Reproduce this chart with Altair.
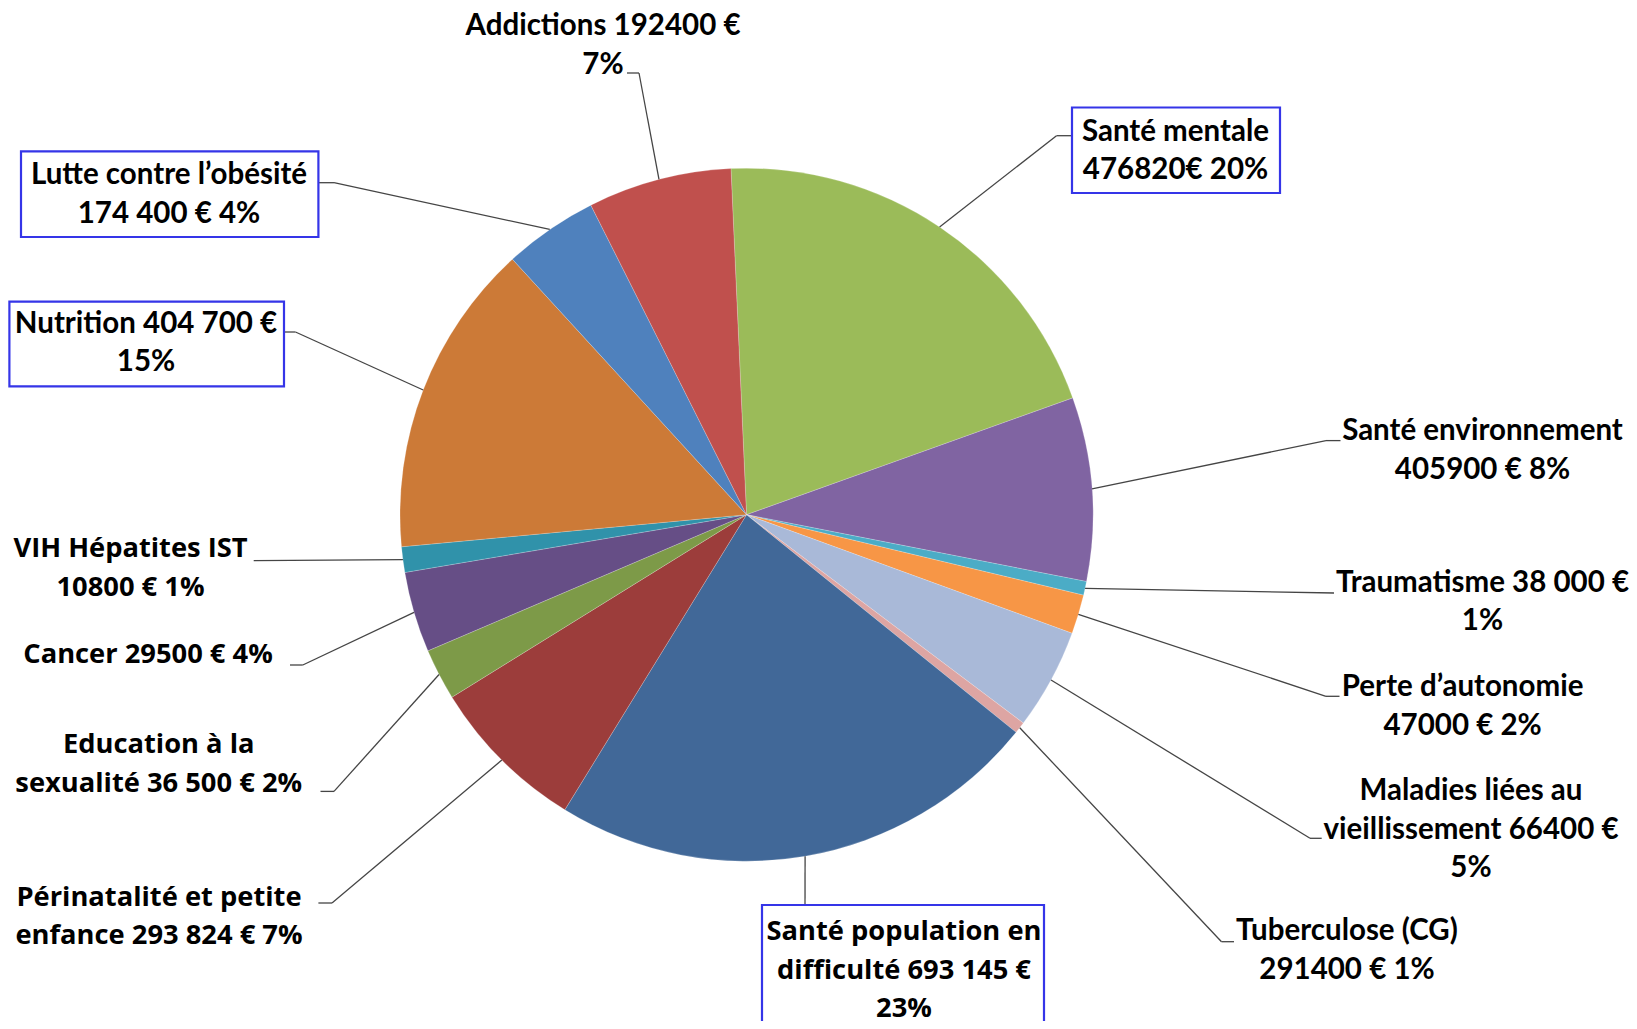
import math
import altair as alt
import pandas as pd

# ---------------- data ----------------
categories = [
    "Santé mentale", "Santé environnement", "Traumatisme", "Perte d'autonomie",
    "Maladies liées au vieillissement", "Tuberculose (CG)", "Santé population en difficulté",
    "Périnatalité et petite enfance", "Education à la sexualité", "Cancer",
    "VIH Hépatites IST", "Nutrition", "Lutte contre l'obésité", "Addictions",
]
# share of the pie (%) as drawn, clockwise from the top
shares = [20.24, 8.56, 0.64, 1.83, 4.71, 0.54, 22.97, 7.39, 2.40, 3.76, 1.19, 14.67, 4.39, 6.70]
label_texts = [
    ["Santé mentale", "476820€ 20%"],
    ["Santé environnement", "405900 € 8%"],
    ["Traumatisme  38 000 €", "1%"],
    ["Perte d\u2019autonomie", "47000 € 2%"],
    ["Maladies liées au", "vieillissement 66400 €", "5%"],
    ["Tuberculose (CG)", "291400 € 1%"],
    ["Santé population  en", "difficulté 693 145 €", "23%"],
    ["Périnatalité et petite", "enfance 293 824 € 7%"],
    ["Education à la", "sexualité 36 500 € 2%"],
    ["Cancer  29500 € 4%"],
    ["VIH Hépatites IST", "10800 € 1%"],
    ["Nutrition 404 700 €", "15%"],
    ["Lutte contre l\u2019obésité", "174 400 € 4%"],
    ["Addictions  192400 €", "7%"],
]

# ---------------- styles / layout ----------------
colors = ["#9BBB59", "#8064A2", "#4BACC6", "#F79646", "#A9B9D8", "#DDA5A3", "#416898",
          "#9C3D3B", "#7D9A48", "#664E86", "#3092AA", "#CC7A37", "#4F81BD", "#C0504D"]
font_group = ["n", "n", "n", "n", "n", "n", "w", "w", "w", "w", "w", "n", "n", "n"]

W, H = 1621, 1013
CX, CY, R = 738.5, 506.7, 346.5
START_DEG = -2.57

# position of the first line of each label (centre)
label_pos = [(1167.5, 123.5), (1474.5, 423.2), (1474.5, 574.6), (1454.6, 679),
             (1463, 783.4), (1339, 923.2), (896, 924.3), (151, 889.8), (150.7, 737.4),
             (140, 646.6), (122.5, 541.1), (138, 315.6), (161, 167.4), (595, 18.1)]
# leader elbow and end points
leader_pts = [((1048.5, 127.7), (1064, 127.7)), ((1318, 432.6), (1332.5, 432.6)),
              ((1326, 585), (1326, 585)), ((1318, 688.3), (1331.5, 688.3)),
              ((1302, 830.3), (1313.7, 830.3)), ((1213.5, 933.7), (1226, 933.7)),
              ((797, 897), (797, 897)), ((324, 895), (310.4, 895)),
              ((326, 783.4), (312.5, 783.4)), ((294.8, 657), (282, 657)),
              ((245.7, 552.6), (245.7, 552.6)), ((287.5, 324), (276, 324)),
              ((326, 174.7), (310.4, 174.7)), ((631, 65), (619, 65))]
box_rects = [(1064, 99.5, 1272, 185), (754, 897, 1036, 1040),
             (1.4, 293.7, 276, 378.3), (13, 143.4, 310.4, 229)]

# ---------------- build tables ----------------
pie = pd.DataFrame({"cat": categories, "share": shares, "idx": list(range(len(categories)))})

total = sum(shares)
segs = []
cum = 0.0
for i, s in enumerate(shares):
    mid = math.radians(START_DEG) + 2 * math.pi * (cum + s / 2) / total
    cum += s
    sx, sy = CX + R * math.sin(mid), CY - R * math.cos(mid)
    (ex, ey), (tx, ty) = leader_pts[i]
    segs.append({"x": sx, "y": sy, "x2": ex, "y2": ey})
    if (tx, ty) != (ex, ey):
        segs.append({"x": ex, "y": ey, "x2": tx, "y2": ty})
seg_df = pd.DataFrame(segs)

boxes = pd.DataFrame([{"x": b[0], "y": b[1], "x2": b[2], "y2": b[3]} for b in box_rects])

labels = pd.DataFrame({
    "txt": ["\n".join(t) for t in label_texts],
    "x": [p[0] for p in label_pos],
    "y": [p[1] for p in label_pos],
    "grp": font_group,
})

a0 = math.radians(START_DEG)
arcs = alt.Chart(pie).mark_arc(radius=R, stroke="#ffffff", strokeWidth=0.4, strokeOpacity=0.5).encode(
    theta=alt.Theta("share:Q", stack=True, scale=alt.Scale(range=[a0, a0 + 2 * math.pi])),
    color=alt.Color("cat:N", scale=alt.Scale(domain=categories, range=colors), legend=None),
    order=alt.Order("idx:Q"),
    x=alt.value(CX),
    y=alt.value(CY),
)

leaders = alt.Chart(seg_df).mark_rule(color="#454545", strokeWidth=1.3).encode(
    x=alt.X("x:Q", scale=None), y=alt.Y("y:Q", scale=None),
    x2="x2:Q", y2="y2:Q",
)

box_layer = alt.Chart(boxes).mark_rect(fill="white", stroke="#3535E8", strokeWidth=2.2).encode(
    x=alt.X("x:Q", scale=None), y=alt.Y("y:Q", scale=None),
    x2="x2:Q", y2="y2:Q",
)

text_n = alt.Chart(labels).transform_filter(alt.datum.grp == "n").mark_text(
    font="Lato", fontWeight="bold", fontSize=29.5, lineHeight=38.5, align="center",
    baseline="middle", lineBreak="\n", color="#000000",
).encode(x=alt.X("x:Q", scale=None), y=alt.Y("y:Q", scale=None), text="txt:N")

text_w = alt.Chart(labels).transform_filter(alt.datum.grp == "w").mark_text(
    font="Open Sans", fontWeight="bold", fontSize=27.3, lineHeight=38.5, align="center",
    baseline="middle", lineBreak="\n", color="#000000",
).encode(x=alt.X("x:Q", scale=None), y=alt.Y("y:Q", scale=None), text="txt:N")

chart = alt.layer(arcs, leaders, box_layer, text_n, text_w).properties(
    width=W, height=H, padding=0, autosize=alt.AutoSizeParams(type="none"),
).configure_view(stroke=None)

chart.save("out.html", embed_options={"renderer": "svg", "actions": False})
